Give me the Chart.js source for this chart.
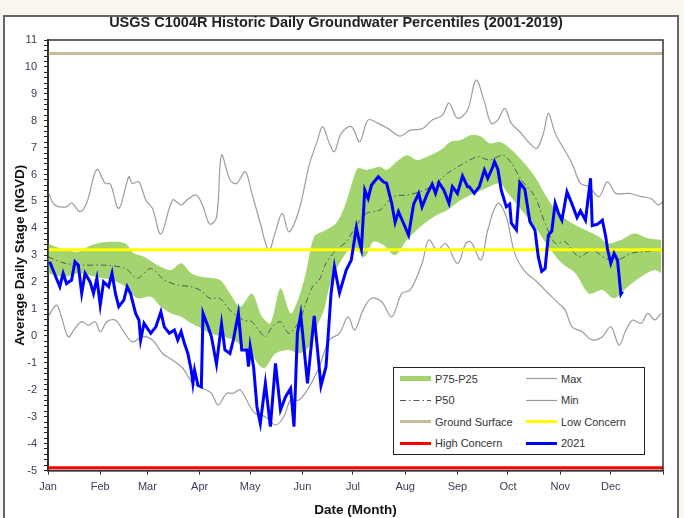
<!DOCTYPE html>
<html>
<head>
<meta charset="utf-8">
<title>USGS C1004R Historic Daily Groundwater Percentiles</title>
<script src="https://cdn.jsdelivr.net/npm/chart.js@4"></script>
<style>
  html, body { margin: 0; padding: 0; }
  body {
    width: 684px; height: 518px; position: relative; overflow: hidden;
    background: #f8f6ef;
    font-family: "Liberation Sans", Arial, sans-serif;
  }
  #frame {
    position: absolute; left: 3px; top: 15px; width: 672px; height: 520px;
    background: #fff; border: 2px solid #666;
  }
  #wrap { position: absolute; left: 0; top: 0; width: 684px; height: 518px; }
  #legend {
    position: absolute; left: 393px; top: 367px; width: 252px; height: 88px;
    box-sizing: border-box; border: 1.5px solid #222; background: #fff;
    padding-left: 6px;
    display: grid; grid-auto-flow: column;
    grid-template-rows: repeat(4, 1fr); grid-template-columns: 126px 1fr;
  }
  .item { display: flex; align-items: center; font-size: 11px; color: #333; white-space: nowrap; }
  .item svg { margin-right: 4px; flex: none; }
</style>
</head>
<body>
<div id="frame"></div>
<div id="wrap"><canvas id="grafNivel" width="684" height="518"></canvas></div>
<div id="legend"></div>
<script>
// valores (x = dia del año, y = nivel NGVD)
const monthStarts = [0, 31, 59, 90, 120, 151, 181, 212, 243, 273, 304, 334, 365];
const monthLabels = ["Jan", "Feb", "Mar", "Apr", "May", "Jun", "Jul", "Aug", "Sep", "Oct", "Nov", "Dec", ""];

const maxDays = [0,4,11,14,19,23,29,34,37,42,48,50,54,58,62,67,74,79,83,88,92,96,100,103,108,112,117,121,126,131,
  135,139,143,149,155,160,163,167,170,174,180,185,190,196,202,209,215,222,228,234,238,243,249,254,259,263,267,271,275,280,
  285,290,294,297,301,306,311,316,321,327,332,337,345,352,358,362,365];
const maxVals = [5.36,4.87,4.8,4.95,4.62,4.95,6.19,5.67,5.65,4.74,5.92,5.67,5.73,5.05,4.74,3.79,5.05,4.87,5.08,5.24,
  4.81,4.16,4.4,6.72,5.8,5.67,6.1,5.3,4.19,3.19,3.87,4.56,3.87,4.68,6.35,7.28,7.78,7.16,6.85,7.53,
  7.78,7.22,8.03,7.9,7.7,7.43,7.65,7.7,8.03,8.2,8.65,8.09,8.4,9.51,8.71,7.9,8.03,8.46,7.9,7.59,
  7.22,6.97,7.53,8.27,7.53,6.97,6.42,5.67,5.55,5.18,5.73,5.3,5.3,5.18,5.1,4.87,5.0];

const minDays = [0,5,8,12,16,20,24,28,31,35,40,45,50,56,62,68,74,80,86,92,97,101,106,110,114,120,123,129,135,140,
  144,149,155,161,167,173,178,182,187,192,198,204,210,215,222,226,231,236,243,248,251,257,261,267,272,277,283,289,297,303,
  307,311,317,323,329,334,339,343,347,352,356,360,364];
const minVals = [0.71,1.15,0.71,-0.03,0.28,0.53,0.4,0.53,0.16,0.53,0.59,0.16,-0.22,-0.03,-0.15,-0.65,-0.9,-1.2,-1.76,-1.95,
  -2.13,-2.57,-2.13,-2.13,-2.0,-2.63,-2.88,-3.0,-3.31,-3.0,-2.38,-2.38,-1.89,-1.14,-0.15,0.1,0.71,0.22,0.96,1.4,
  1.27,0.71,1.58,1.71,2.7,3.57,3.19,3.44,2.7,3.44,3.5,2.82,3.94,4.93,4.43,3.07,2.4,2.08,1.58,1.21,
  0.96,0.34,0.16,-0.15,-0.03,0.34,-0.34,0.22,0.59,0.47,0.84,0.6,0.84];

const p75Days = [0,10,18,26,36,46,51,57,65,73,79,85,91,102,108,114,121,127,132,138,144,149,153,158,165,171,176,181,184,189,
  197,201,207,213,219,225,233,239,245,251,257,262,268,273,281,289,297,303,311,319,327,332,340,348,356,364];
const p75Vals = [3.44,3.2,3.13,3.38,3.5,3.44,3.07,2.94,2.63,2.45,2.7,2.33,2.2,2.08,1.58,1.09,1.58,0.71,0.47,1.77,
  0.84,1.46,2.33,3.69,3.94,4.19,4.8,5.8,6.23,6.17,6.29,6.17,6.48,6.72,6.54,6.66,6.91,7.22,7.28,7.47,
  7.41,7.16,7.22,7.03,6.54,5.92,5.05,4.56,4.19,3.94,3.69,3.44,3.57,3.81,3.63,3.57];

const p25Days = [0,10,18,28,38,46,53,61,67,73,79,85,91,96,110,120,128,135,143,149,155,160,164,167,173,181,188,193,199,206,
  213,221,229,237,245,253,260,268,273,281,289,297,305,313,321,329,336,344,352,360,364];
const p25Vals = [2.33,2.2,2.33,2.2,2.08,1.83,1.4,1.46,1.09,0.84,0.71,0.47,0.28,0.1,-0.15,-0.65,-1.2,-0.65,-0.52,-0.65,
  -0.4,0.4,1.0,1.8,2.7,3.32,2.94,3.5,3.38,3.0,3.57,4.06,4.43,4.68,5.05,5.3,5.49,5.67,5.3,4.68,
  4.06,3.32,2.7,2.33,1.58,1.71,1.4,1.83,2.2,2.45,2.33];

const p50Days = [0,10,22,34,46,53,61,69,77,85,91,96,102,108,116,121,125,129,133,138,143,149,153,157,161,165,171,177,183,189,
  197,205,213,221,229,237,245,255,262,270,275,281,289,295,301,307,315,323,331,338,346,354,364];
const p50Vals = [2.94,2.7,2.63,2.63,2.51,2.14,2.51,2.08,1.89,1.83,1.68,1.4,1.4,0.96,0.59,0.53,0.22,-0.03,0.34,0.53,
  0.1,0.53,1.21,1.83,2.08,2.7,3.19,3.5,4.1,4.56,4.68,5.18,5.24,5.36,5.61,6.04,6.35,6.66,6.54,6.72,
  6.42,5.8,5.18,4.19,3.44,3.5,2.94,3.19,2.88,2.82,3.07,3.13,3.19];

const y2021Days = [1,3,7,9,11,14,16,18,20,22,25,27,29,31,33,36,38,40,42,45,47,49,50,52,54,55,57,59,61,64,
  67,69,72,75,77,79,81,83,85,86,87,89,91,92,95,97,100,103,105,108,110,113,115,118,119,120,122,124,126,129,
  132,135,138,141,144,146,148,150,154,158,162,165,168,170,173,177,180,183,185,186,188,190,192,196,199,201,204,206,208,211,
  214,217,220,222,225,228,230,232,235,238,240,243,246,249,250,253,256,259,261,264,265,267,269,272,274,275,278,280,283,286,
  289,291,293,295,297,299,301,303,305,308,311,314,316,319,322,323,326,329,331,332,334,336,338,340,341];
const y2021Vals = [2.76,2.45,1.83,2.33,1.95,2.08,2.76,2.63,1.58,2.33,2.01,1.58,2.14,1.15,2.01,1.83,2.33,1.58,1.09,1.33,
  1.83,1.58,1.33,0.84,0.59,-0.15,0.47,0.28,0.1,0.34,0.9,0.34,0.1,0.22,-0.15,0.16,-0.28,-0.65,-1.27,-1.76,
  -1.27,-1.83,-1.89,0.84,0.34,-0.03,-1.05,0.45,-0.52,-0.65,-0.15,0.84,-0.52,-0.52,-1.14,-0.4,-1.14,-2.63,-3.25,-1.76,
  -3.37,-1.02,-2.75,-2.26,-1.95,-3.37,0.1,0.8,-1.76,0.75,-1.85,-1.14,1.58,2.57,1.6,2.45,2.82,4.03,3.44,3.22,
  5.42,5.11,5.61,5.92,5.73,5.67,4.93,4.22,4.62,4.19,3.75,4.9,5.3,4.8,5.27,5.64,5.3,5.7,5.42,4.93,
  5.55,5.3,5.95,5.55,5.55,5.3,5.55,6.17,5.86,6.29,6.48,6.2,5.42,4.8,4.9,4.19,3.94,5.7,5.45,4.25,
  3.94,2.94,2.4,2.5,3.75,3.9,4.93,4.56,4.3,5.36,4.9,4.4,4.65,4.3,5.86,4.1,4.15,4.3,3.7,3.25,
  2.7,3.07,2.82,1.55,1.65];

const groundSurface = 10.5;
const lowConcern = 3.2;
const highConcern = -4.9;

const FONT = "'Liberation Sans', Arial, sans-serif";
const GREEN = "#a3d46f";

const toXY = (days, vals) => days.map((d, i) => ({ x: d, y: vals[i] }));
const flat = (v) => [{ x: 0, y: v }, { x: 365, y: v }];

// marco del area de trazado
const plotFrame = {
  id: "plotFrame",
  afterDatasetsDraw(chart) {
    const { ctx, chartArea: a } = chart;
    ctx.save();
    ctx.strokeStyle = "#333";
    ctx.lineWidth = 1.5;
    ctx.strokeRect(a.left, a.top, a.right - a.left, a.bottom - a.top);
    ctx.restore();
  },
};

function buildLegend(chart) {
  const box = document.getElementById("legend");
  chart.data.datasets.forEach((ds) => {
    if (ds.noLegend) return;
    const color = ds.swatchColor || ds.borderColor;
    const w = ds.swatchWidth || ds.borderWidth;
    const dash = (ds.borderDash || []).join(",");
    const item = document.createElement("div");
    item.className = "item";
    item.innerHTML =
      `<svg width="31" height="7"><line x1="0" y1="3.5" x2="31" y2="3.5" stroke="${color}" stroke-width="${w}"` +
      (dash ? ` stroke-dasharray="${dash}"` : "") + `/></svg><span>${ds.label}</span>`;
    box.appendChild(item);
  });
}

const line = (label, data, color, width, order, extra = {}) => ({
  label, data, borderColor: color, borderWidth: width, order,
  pointRadius: 0, fill: false, tension: 0, ...extra,
});

const chart = new Chart(document.getElementById("grafNivel"), {
  type: "line",
  data: {
    datasets: [
      line("P75-P25", toXY(p75Days, p75Vals), GREEN, 0, 6,
        { backgroundColor: GREEN, fill: 8, tension: 0.3, swatchColor: GREEN, swatchWidth: 5 }),
      line("P50", toXY(p50Days, p50Vals), "#555", 1, 5, { borderDash: [6, 3, 1.5, 3], tension: 0.3 }),
      line("Ground Surface", flat(groundSurface), "#c8bd98", 3, 3),
      line("High Concern", flat(highConcern), "#ff0000", 3, 2),
      line("Max", toXY(maxDays, maxVals), "#9c9c9c", 1.2, 4, { tension: 0.35 }),
      line("Min", toXY(minDays, minVals), "#9c9c9c", 1.2, 4, { tension: 0.35 }),
      line("Low Concern", flat(lowConcern), "#ffff00", 3, 2),
      line("2021", toXY(y2021Days, y2021Vals), "#0000ff", 3, 0),
      line("P25", toXY(p25Days, p25Vals), GREEN, 0, 6, { tension: 0.3, noLegend: true }),
    ],
  },
  options: {
    responsive: false,
    animation: false,
    events: [],
    layout: { padding: { left: 9, right: 21, top: 0, bottom: 0 } },
    plugins: {
      legend: { display: false },
      tooltip: { enabled: false },
      title: {
        display: true,
        text: "USGS C1004R Historic Daily Groundwater Percentiles (2001-2019)",
        color: "#222",
        font: { family: FONT, size: 14.5, weight: "bold" },
        padding: { top: 14, bottom: 8.6 },
      },
    },
    scales: {
      x: {
        type: "linear",
        min: 0,
        max: 365,
        afterBuildTicks: (s) => { s.ticks = monthStarts.map((v) => ({ value: v })); },
        afterFit: (s) => { s.height = 47.5; },
        ticks: {
          autoSkip: false,
          maxRotation: 0,
          padding: 6,
          color: "#3a3a5a",
          font: { family: FONT, size: 11 },
          callback: (v) => monthLabels[monthStarts.indexOf(v)] ?? "",
        },
        grid: { drawOnChartArea: false, tickLength: 4, color: "#222" },
        border: { color: "#222", width: 1.5 },
        title: {
          display: true,
          text: "Date (Month)",
          color: "#111",
          font: { family: FONT, size: 13.5, weight: "bold" },
          padding: { top: 0, bottom: 0 },
        },
      },
      y: {
        min: -5,
        max: 11,
        afterBuildTicks: (s) => {
          s.ticks = [];
          for (let i = 0; i <= 80; i++) s.ticks.push({ value: -5 + i * 0.2 });
        },
        afterFit: (s) => { s.width = 39; },
        ticks: {
          autoSkip: false,
          padding: 7,
          color: "#3a3a5a",
          font: { family: FONT, size: 11 },
          callback: (v) => (Math.abs(v - Math.round(v)) < 1e-6 ? String(Math.round(v)) : ""),
        },
        grid: { drawOnChartArea: false, tickLength: 4, color: "#222" },
        border: { color: "#222", width: 2 },
        title: {
          display: true,
          text: "Average Daily Stage (NGVD)",
          color: "#111",
          font: { family: FONT, size: 13.5, weight: "bold" },
          padding: { top: 3, bottom: 2 },
        },
      },
    },
  },
  plugins: [plotFrame],
});

buildLegend(chart);
</script>
</body>
</html>
